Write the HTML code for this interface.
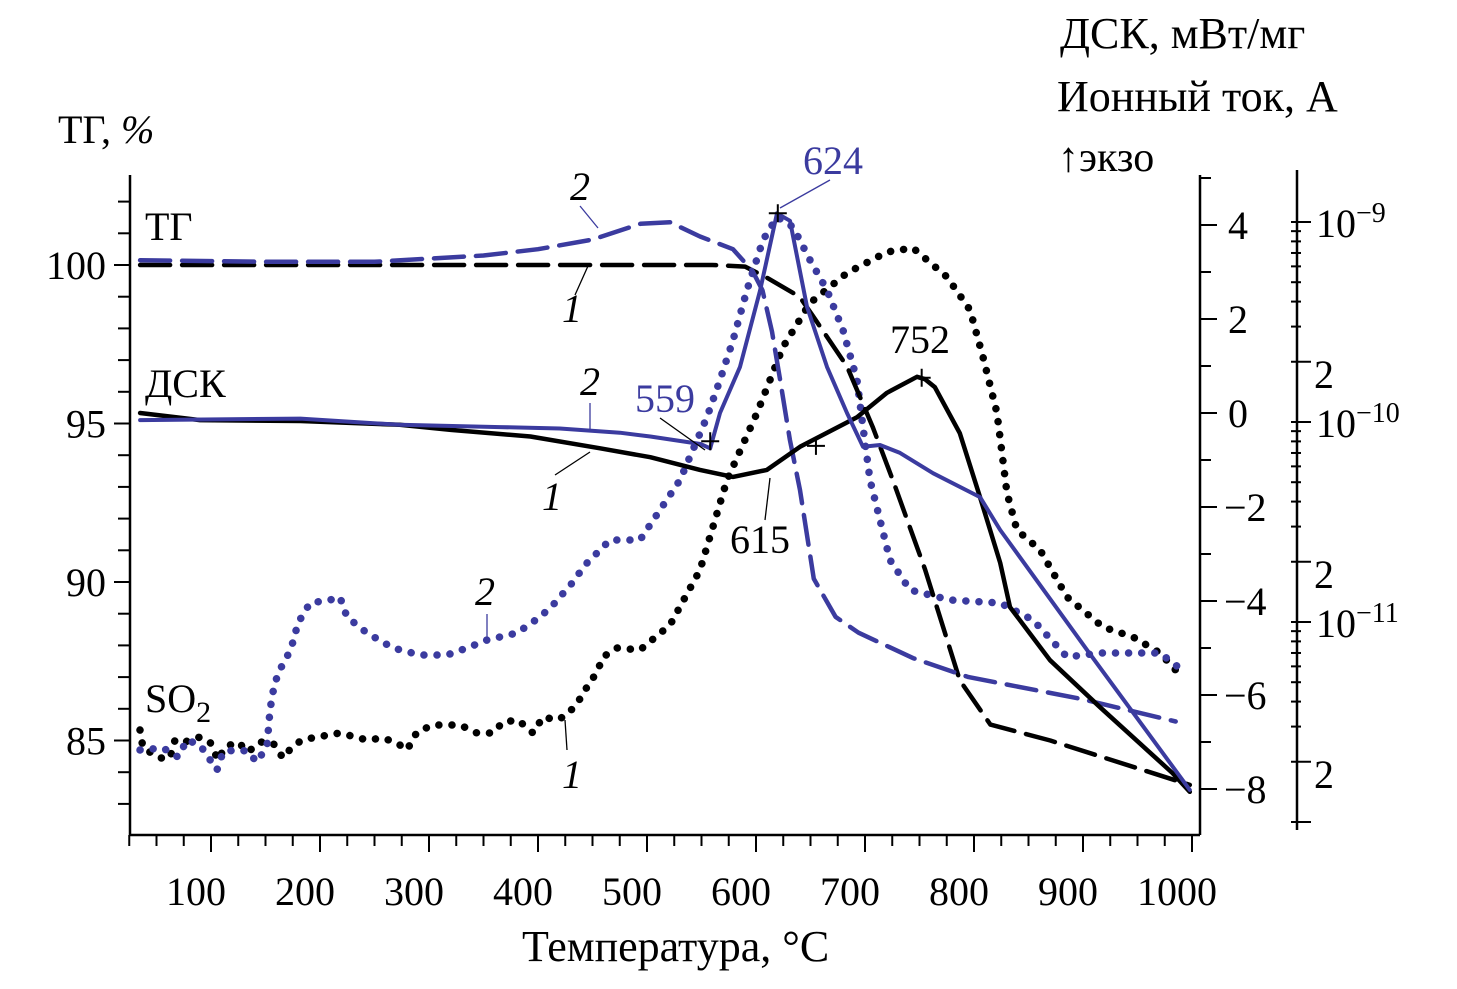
<!DOCTYPE html>
<html><head><meta charset="utf-8">
<style>
html,body{margin:0;padding:0;background:#fff;}
svg{display:block;font-family:"Liberation Serif","DejaVu Serif",serif;}
text{fill:#000;}
</style></head>
<body>
<svg id="chart" width="1457" height="989" viewBox="0 0 1457 989" xmlns="http://www.w3.org/2000/svg">
<g id="axes"></g>
<g id="series"></g>
<g id="labels">
  <text x="58" y="143" font-size="40">ТГ, <tspan font-style="italic">%</tspan></text>
  <text x="1060" y="48" font-size="44">ДСК, мВт/мг</text>
  <text x="1057" y="111" font-size="44">Ионный ток, А</text>
  <text x="1058" y="171" font-size="42">↑экзо</text>
  <text x="522" y="961" font-size="44">Температура, °С</text>
  <text x="145" y="240" font-size="40">ТГ</text>
  <text x="145" y="397" font-size="40">ДСК</text>
  <text x="145" y="712" font-size="40">SO<tspan font-size="30" dy="10">2</tspan></text>
  <text x="803" y="174" font-size="40" style="fill:#3b3b9f">624</text>
  <text x="890" y="353" font-size="40">752</text>
  <text x="635" y="412" font-size="40" style="fill:#3b3b9f">559</text>
  <text x="730" y="553" font-size="40">615</text>
  <g font-style="italic" font-size="40">
    <text x="570" y="200">2</text>
    <text x="562" y="322">1</text>
    <text x="580" y="395">2</text>
    <text x="542" y="510">1</text>
    <text x="475" y="605">2</text>
    <text x="562" y="788">1</text>
  </g>
  <g stroke="#000" stroke-width="1.3" fill="none">
    <line x1="575" y1="295" x2="588" y2="266"/>
    <line x1="580" y1="206" x2="598" y2="228" stroke="#3b3b9f"/>
    <line x1="555" y1="475" x2="590" y2="452"/>
    <line x1="590" y1="403" x2="590" y2="430" stroke="#3b3b9f"/>
    <line x1="780" y1="208" x2="830" y2="180" stroke="#3b3b9f"/>
    <line x1="660" y1="418" x2="705" y2="450"/>
    <line x1="765" y1="520" x2="770" y2="478"/>
    <line x1="487" y1="614" x2="487" y2="638" stroke="#3b3b9f"/>
    <line x1="565" y1="720" x2="567" y2="750"/>
  </g>
</g>
</svg>
<script>
// ---- data ----
const xTicks = [100,200,300,400,500,600,700,800,900,1000];
const tgTicks = [85,90,95,100];
const dscTicks = [4,2,0,-2,-4,-6,-8];
const logDecades = [-9,-10,-11];

const tg1T = [35,100,200,300,400,500,560,590,610,640,652,683.5,707,725.7,755,787,815,870,998];
const tg1V = [100,100,100,100,100,100,100,99.95,99.6,99.0,98.4,96.8,94.9,93.2,90.4,86.9,85.5,85.0,83.6];

const tg2T = [35,150,250,350,400,450,494,521,548.6,578.9,597,606,614.7,622,631,640.4,653,673,694,744,795,900,985];
const tg2V = [100.15,100.1,100.1,100.3,100.5,100.8,101.3,101.35,100.9,100.5,99.8,99.2,97.9,96.4,94.5,92.9,90.1,88.9,88.4,87.6,87.0,86.3,85.6];

const dsc1T = [35,90,182,273,320,393,457,503,548.6,578.9,610,640.4,692.7,720.2,747.7,755,764,787,805.5,824,833,869.7,915.6,982,998];
const dsc1V = [0.0,-0.15,-0.17,-0.25,-0.36,-0.5,-0.75,-0.94,-1.21,-1.36,-1.21,-0.72,-0.09,0.43,0.77,0.72,0.55,-0.43,-1.79,-3.19,-4.13,-5.26,-6.26,-7.66,-8.06];

const dsc2T = [35,182,273,365,420,475,503,549,558,567,585.3,603.7,619.3,631.2,646.8,665.1,683.5,698.2,713.8,732.1,762.4,805.5,824,903.7,998];
const dsc2V = [-0.15,-0.12,-0.25,-0.3,-0.33,-0.42,-0.5,-0.66,-0.75,0,0.98,2.6,4.25,4.09,2.26,0.98,0,-0.72,-0.68,-0.85,-1.28,-1.79,-2.49,-5.04,-8.02];

const so2aT = [34.9,37.6,53.2,62.4,67,76.1,88.1,99.1,106.4,112.8,124.8,133.9,145,156.9,166.1,174.3,183.5,192.7,218.3,243.1,257.8,270.6,279.8,289,303.7,328.4,344,358.7,367.9,381.7,395.4,404.6,417.4,426.6,436.7,445,454.1,459.6,472.5,493.6,521.1,548.6,573.4,600.9,624.8,649.5,683.5,720.2,744,775.2,796.3,808.3,821.1,830.3,839.4,860.6,885.3,918.3,945.9,970.6,990.8];
const so2aV = [-11.54,-11.63,-11.68,-11.68,-11.59,-11.6,-11.575,-11.6,-11.69,-11.625,-11.6,-11.65,-11.6,-11.605,-11.68,-11.625,-11.59,-11.58,-11.555,-11.59,-11.58,-11.605,-11.64,-11.55,-11.515,-11.515,-11.555,-11.555,-11.5,-11.49,-11.555,-11.475,-11.49,-11.465,-11.4,-11.325,-11.25,-11.175,-11.13,-11.14,-11.015,-10.74,-10.29,-9.955,-9.625,-9.405,-9.255,-9.15,-9.13,-9.275,-9.44,-9.675,-9.955,-10.355,-10.54,-10.64,-10.875,-11.025,-11.075,-11.155,-11.275];

const so2bT = [34.9,56,69.7,78,89.9,105.5,111,122,133,142.2,151.4,154.1,156.9,161.5,169.7,175.2,179.8,190.8,209.2,218.3,224.8,243.1,267,291.7,316.5,334.9,353.2,380.7,401.8,413.8,432.1,443.1,466.1,493.6,530.3,555,567,579,591.7,606.4,619.3,633.9,649.5,665,679.8,692.7,698.2,704.6,722.9,741.3,778,823.9,854.1,885.3,915.6,945.9,970.6,990.8];
const so2bV = [-11.64,-11.63,-11.675,-11.59,-11.615,-11.74,-11.65,-11.64,-11.645,-11.7,-11.62,-11.44,-11.35,-11.255,-11.175,-11.1,-11.005,-10.905,-10.89,-10.875,-10.975,-11.055,-11.13,-11.165,-11.165,-11.13,-11.09,-11.055,-10.975,-10.915,-10.8,-10.715,-10.59,-10.59,-10.29,-9.975,-9.79,-9.59,-9.34,-9.09,-8.975,-9.025,-9.19,-9.34,-9.54,-9.79,-10.025,-10.29,-10.69,-10.84,-10.89,-10.905,-10.99,-11.175,-11.155,-11.155,-11.155,-11.24];

// ---- scales ----
const X0 = 130, X1 = 1200, YB = 835, YT = 175;
function xs(t){ return 211 + (t - 100) * 1.09; }
function yTG(v){ return 265 + (100 - v) * 31.7; }
function yDSC(v){ return 413 - v * 47; }
function yLog(l){ return 222 + (-9 - l) * 200; }

const NS = 'http://www.w3.org/2000/svg';
function mk(tag, attrs, parent){
  const e = document.createElementNS(NS, tag);
  for (const k in attrs) e.setAttribute(k, attrs[k]);
  parent.appendChild(e);
  return e;
}
const axes = document.getElementById('axes');
const series = document.getElementById('series');

let l;
l = mk('line',{x1:X0,y1:YT,x2:X0,y2:YB,stroke:'#000','stroke-width':2.5},axes);


l = mk('line',{x1:X0,y1:YB,x2:X1,y2:YB,stroke:'#000','stroke-width':2.5},axes);


l = mk('line',{x1:1200,y1:175,x2:1200,y2:835,stroke:'#000','stroke-width':2.5},axes);


l = mk('line',{x1:1297,y1:170,x2:1297,y2:830,stroke:'#000','stroke-width':2.5},axes);



for (let t = 25; t <= 1000; t += 25){
  const x = xs(t);
  if (x < X0 - 1) continue;
  const major = t % 100 === 0;
  const tk = mk('line',{x1:x,y1:YB,x2:x,y2:YB + (major ? 17 : 11),stroke:'#000','stroke-width':2},axes);
  
  
}
xTicks.forEach(t => {
  const tx = mk('text',{x:xs(t)-15,y:905,'font-size':40,'text-anchor':'middle'},axes);
  tx.textContent = t;
  
  
});

for (let v = 83; v <= 102; v++){
  const y = yTG(v);
  const major = v % 5 === 0;
  const tk = mk('line',{x1:X0 - (major ? 16 : 12),y1:y,x2:X0,y2:y,stroke:'#000','stroke-width':2},axes);
  
  
}
tgTicks.forEach(v => {
  const tx = mk('text',{x:106,y:yTG(v)+14,'font-size':40,'text-anchor':'end'},axes);
  tx.textContent = v;
  
  
});

for (let v = -9; v <= 5; v++){
  const y = yDSC(v);
  if (y < 175 || y > 835) continue;
  const major = v % 2 === 0;
  const tk = mk('line',{x1:1200,y1:y,x2:1200 + (major ? 17 : 11),y2:y,stroke:'#000','stroke-width':2},axes);
  
  
}
dscTicks.forEach(v => {
  const tx = mk('text',{x:v < 0 ? 1224 : 1228,y:yDSC(v)+14,'font-size':40},axes);
  tx.textContent = v < 0 ? '\u2212' + Math.abs(v) : String(v);
  
  
});

for (let d = -12; d <= -9; d++){
  for (let m = 1; m <= 9; m++){
    const L = d + Math.log10(m);
    const y = yLog(L);
    if (y < 172 || y > 828) continue;
    const big = (m === 1 || m === 2);
    const tk = mk('line',{x1:1291,y1:y,x2:1297 + (big ? 14 : 4),y2:y,stroke:'#000','stroke-width':2},axes);
    
    
    if (m === 2){
      const tx = mk('text',{x:1314,y:y+26,'font-size':40},axes);
      tx.textContent = '2';
      
      
    }
  }
}
logDecades.forEach(d => {
  const tx = mk('text',{x:1316,y:yLog(d)+15,'font-size':40},axes);
  tx.textContent = '10';
  
  
  const ts = mk('tspan',{dy:-15,'font-size':28},tx);
  ts.textContent = '\u2212' + Math.abs(d);
});

const BLUE = '#3b3b9f';
function draw(T, V, yf, color, dash, w, name){
  const pts = T.map((t,i) => xs(t).toFixed(1) + ',' + yf(V[i]).toFixed(1)).join(' ');
  const p = mk('polyline',{points:pts,fill:'none',stroke:color,'stroke-width':w,'stroke-linejoin':'round','stroke-linecap':'round'},series);
  if (dash) p.setAttribute('stroke-dasharray', dash);
  
  
}
draw(so2aT, so2aV, yLog, '#000', '0.1 13', 7.5, 'so2-curve-1');
draw(so2bT, so2bV, yLog, BLUE, '0.1 13', 7.5, 'so2-curve-2');
draw(tg1T, tg1V, yTG, '#000', '30 12', 4.5, 'tg-curve-1');
draw(tg2T, tg2V, yTG, BLUE, '30 12', 4.5, 'tg-curve-2');
draw(dsc1T, dsc1V, yDSC, '#000', null, 4.5, 'dsc-curve-1');
draw(dsc2T, dsc2V, yDSC, BLUE, null, 4, 'dsc-curve-2');

[[620,4.25],[752,0.75],[655,-0.7],[558,-0.6]].forEach(p => {
  const x = xs(p[0]), y = yDSC(p[1]);
  const m = mk('path',{d:`M${x-9},${y}H${x+9}M${x},${y-9}V${y+9}`,stroke:'#000','stroke-width':2},series);
  
  
});
</script>
</body></html>
